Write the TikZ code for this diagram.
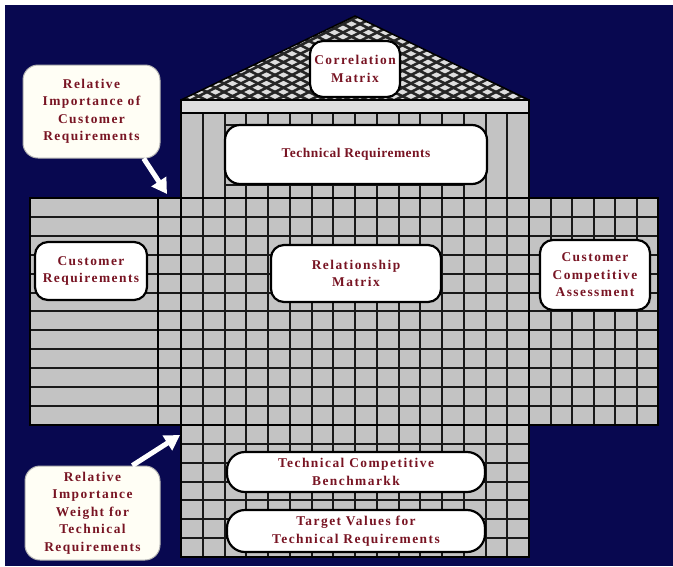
\documentclass[tikz,border=0pt]{standalone}
\usepackage{fontspec}
\setmainfont{Liberation Serif}
\newfontfamily\lblwidefam[LetterSpace=11]{Liberation Serif}
\newfontfamily\lblnarrowfam[LetterSpace=4]{Liberation Serif}
\newcommand\lblfnt{\lblwidefam\bfseries\fontsize{13.4}{17.5}\selectfont}
\newcommand\lblfntn{\lblnarrowfam\bfseries\fontsize{13.4}{17.5}\selectfont}
\usetikzlibrary{arrows.meta}
\definecolor{navy}{RGB}{8,8,80}
\definecolor{cellgray}{RGB}{195,195,195}
\definecolor{lblred}{RGB}{120,20,35}
\definecolor{roofgray}{RGB}{222,222,222}
\begin{document}
\begin{tikzpicture}[x=1pt,y=-1pt,
  gridline/.style={line width=2pt, black!90},
  edgeline/.style={line width=2.8pt, black},
  roofline/.style={line width=2.5pt, black!85},
  inbox/.style={draw=black, line width=2.2pt, fill=white, rounded corners=13pt,
    inner sep=0pt, align=center, text=lblred, font=\lblfnt},
  callout/.style={fill=white!96!yellow, draw=gray!60, line width=1pt, rounded corners=15pt,
    inner sep=0pt, align=center, text=lblred, font=\lblfnt},
  warrow/.style={draw=white, line width=5pt, -{Triangle[length=15pt,width=17pt]}}
]
% background
\fill[white] (0,0) rectangle (673,566);
\fill[navy] (5,5) rectangle (673,566);
\useasboundingbox (0,0) rectangle (673,566);

% roof
\coordinate (rl) at (181,100);
\coordinate (rr) at (529,100);
\coordinate (ra) at (355,16);
\begin{scope}
  \clip (rl) -- (ra) -- (rr) -- cycle;
  \fill[roofgray] (150,0) rectangle (560,110);
  \foreach \c in {-200,-191.5,...,110} \draw[roofline] (150,\c) -- (560,\c+205);
  \foreach \c in {10,18.5,...,320} \draw[roofline] (150,\c) -- (560,\c-205);
\end{scope}
\draw[line width=1.5pt, black] (rl) -- (ra) -- (rr);

% header strip
\draw[fill=roofgray, line width=1.5pt] (181,100) rectangle (529,113);

% gray areas
\fill[cellgray] (181,113) rectangle (529,557);
\fill[cellgray] (30,198) rectangle (181,425);
\fill[cellgray] (529,198) rectangle (658,425);

% horizontal lines
\foreach \i in {1,...,11} \draw[gridline] (30,198+\i*18.9) -- (658,198+\i*18.9);
\foreach \i in {13,...,18} \draw[gridline] (181,198+\i*18.9) -- (529,198+\i*18.9);
\draw[gridline] (224.5,125) -- (464,125);
\draw[gridline] (224.5,185) -- (464,185);

% vertical lines
\foreach \j in {1,...,15} \draw[gridline] (181+\j*21.75,113) -- (181+\j*21.75,557);
\foreach \k in {1,...,5} \draw[gridline] (529+\k*21.5,198) -- (529+\k*21.5,425);

% outlines
\draw[edgeline] (30,198) rectangle (181,425);
\draw[edgeline] (158,198) -- (158,425);
\draw[edgeline] (529,198) rectangle (658,425);
\draw[edgeline] (181,113) -- (181,557) -- (529,557) -- (529,113);
\draw[edgeline] (181,198) -- (529,198);
\draw[edgeline] (181,425) -- (529,425);
\draw[line width=1.8pt] (181,113) -- (529,113);

% labels on the house
\node[inbox, minimum width=90, minimum height=56] (corr) at (355,69) {Correlation\\Matrix};
\node[inbox, minimum width=262, minimum height=59, rounded corners=15pt, font=\lblfntn] (techreq) at (356,154.5) {Technical Requirements};
\node[inbox, minimum width=112, minimum height=58] (custreq) at (91,271) {Customer\\Requirements};
\node[inbox, minimum width=170, minimum height=57] (relmat) at (356,273.5) {Relationship\\Matrix};
\node[inbox, minimum width=110, minimum height=70] (cca) at (595,275) {Customer\\Competitive\\Assessment};
\node[inbox, minimum width=258, minimum height=40, rounded corners=18pt] (bench) at (356,472) {Technical Competitive\\Benchmarkk};
\node[inbox, minimum width=258, minimum height=42, rounded corners=18pt] (target) at (356,531) {Target Values for\\Technical Requirements};

% callouts
\node[callout, minimum width=137, minimum height=93] (rici) at (91.5,111.5) {Relative\\Importance of\\Customer\\Requirements};
\node[callout, minimum width=135, minimum height=94] (riwt) at (92.5,513) {Relative\\Importance\\Weight for\\Technical\\Requirements};
\coordinate (tip1) at (167,194);
\coordinate (tip2) at (180,435);
\draw[warrow] (rici.-42) -- (tip1);
\draw[warrow] (riwt.50) -- (tip2);
\end{tikzpicture}
\end{document}
